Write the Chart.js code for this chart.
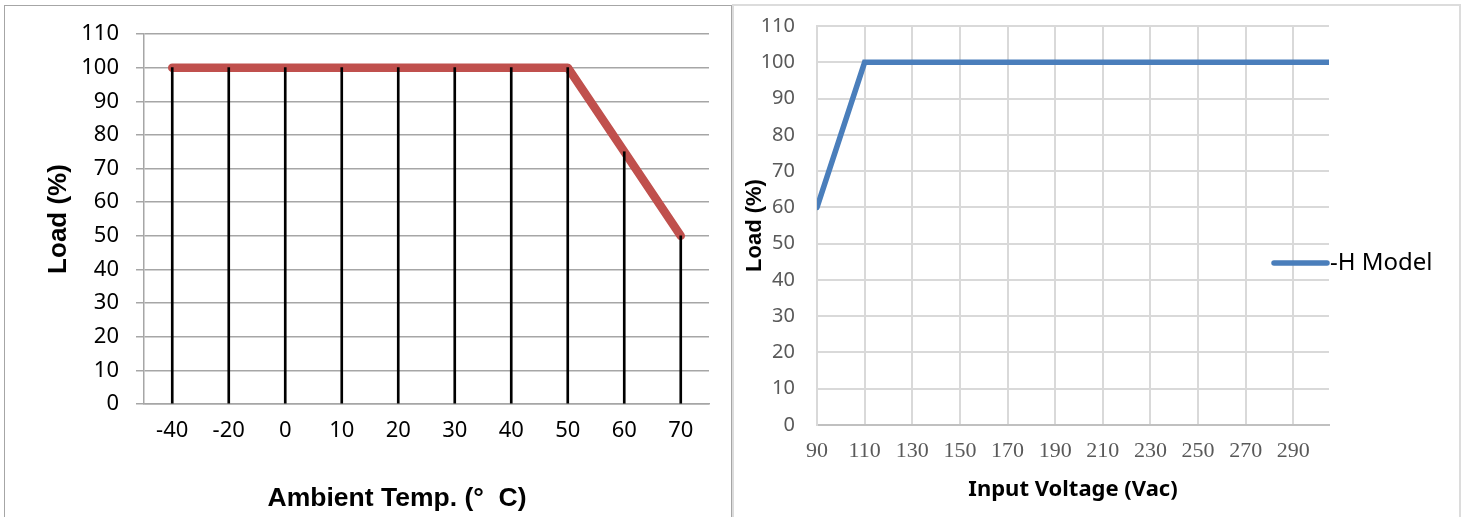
<!DOCTYPE html>
<html>
<head>
<meta charset="utf-8">
<script src="https://cdn.jsdelivr.net/npm/chart.js@4"></script>
<style>
  body { margin: 0; background: #fff; width: 1465px; height: 517px; overflow: hidden; position: relative; }
  .panel { position: absolute; box-sizing: border-box; }
  #leftBox { left: 4px; top: 5px; width: 728px; height: 530px; border: 1px solid #a6a6a6; }
  #rightBox { left: 732px; top: 4px; width: 729px; height: 530px; border: 2px solid #dcdcdc; }
  canvas { position: absolute; }
  #temp { left: 5px; top: 6px; }
  #volt { left: 735px; top: 7px; }
</style>
</head>
<body>
<div class="panel" id="leftBox"></div>
<div class="panel" id="rightBox"></div>
<canvas id="temp" width="725" height="511"></canvas>
<canvas id="volt" width="723" height="510"></canvas>
<script>
// derating vs ambient temperature
const tempLabels = ["-40", "-20", "0", "10", "20", "30", "40", "50", "60", "70"];
const tempLoad = [100, 100, 100, 100, 100, 100, 100, 100, 75, 50];

// derating vs input voltage
const voltX = [90, 110, 305];
const voltLoad = [60, 100, 100];
const voltTicks = [90, 110, 130, 150, 170, 190, 210, 230, 250, 270, 290];
const voltLabel = "-H Model";

const loadMin = 0;
const loadMax = 110;
const loadStep = 10;

Chart.defaults.animation = false;
Chart.defaults.plugins.tooltip.enabled = false;

// fixed axis size, and no extra padding from the tick labels
function fixSize(w, h) {
  return (s) => {
    if (w != null) s.width = w;
    if (h != null) s.height = h;
    s.paddingTop = 0;
    s.paddingBottom = 0;
    s.paddingLeft = 0;
    s.paddingRight = 0;
  };
}

// temperature chart
new Chart(document.getElementById("temp"), {
  data: {
    labels: tempLabels,
    datasets: [
      {
        type: "bar",
        label: "drop",
        data: tempLoad,
        backgroundColor: "#000",
        barThickness: 2,
        order: 0,
      },
      {
        type: "line",
        label: "Load",
        data: tempLoad,
        borderColor: "#C0504D",
        borderWidth: 8.5,
        borderCapStyle: "round",
        borderJoinStyle: "round",
        pointRadius: 0,
        tension: 0,
        order: 1,
      },
    ],
  },
  options: {
    responsive: false,
    layout: { padding: { left: 0, top: 28, right: 21, bottom: 0 } },
    plugins: { legend: { display: false } },
    scales: {
      x: {
        type: "category",
        offset: true,
        grid: { display: false, drawTicks: false, tickLength: 0 },
        border: { display: true, color: "#a6a6a6", width: 1.5 },
        ticks: {
          color: "#000",
          padding: 14,
          maxRotation: 0,
          font: { family: "'Noto Sans', sans-serif", size: 22 },
        },
        title: {
          display: true,
          // trailing spaces push the centred title to the left like the original
          text: "Ambient Temp. (°  C)        ",
          color: "#000",
          padding: { top: 0, bottom: 2 },
          font: { family: "'Liberation Sans', Arial, sans-serif", size: 26.5, weight: "bold" },
        },
        afterFit: fixSize(null, 113),
      },
      y: {
        min: loadMin,
        max: loadMax,
        ticks: {
          stepSize: loadStep,
          color: "#000",
          padding: 17,
          font: { family: "'Noto Sans', sans-serif", size: 22 },
        },
        grid: { color: "#a6a6a6", lineWidth: 1.5, tickLength: 8 },
        border: { color: "#a6a6a6", width: 1.5 },
        title: {
          display: true,
          text: "Load (%)",
          color: "#000",
          padding: { top: 38, bottom: 0 },
          font: { family: "'Liberation Sans', Arial, sans-serif", size: 26, weight: "bold" },
        },
        afterFit: fixSize(139, null),
      },
    },
  },
});

// legend sitting over the right edge of the plot, like the Excel one
const sideLegend = {
  id: "sideLegend",
  afterDraw(chart) {
    const ds = chart.data.datasets[0];
    const ctx = chart.ctx;
    const a = chart.chartArea;
    const y = 256;
    ctx.save();
    ctx.strokeStyle = ds.borderColor;
    ctx.lineWidth = ds.borderWidth;
    ctx.lineCap = "round";
    ctx.beginPath();
    ctx.moveTo(a.right - 55, y);
    ctx.lineTo(a.right - 2, y);
    ctx.stroke();
    ctx.fillStyle = "#000";
    ctx.font = "24px 'Noto Sans', sans-serif";
    ctx.textAlign = "left";
    ctx.textBaseline = "middle";
    ctx.fillText(ds.label, a.right + 1, y);
    ctx.restore();
  },
};

new Chart(document.getElementById("volt"), {
  type: "line",
  data: {
    datasets: [
      {
        label: voltLabel,
        data: voltX.map((v, i) => ({ x: v, y: voltLoad[i] })),
        borderColor: "#4A7EBB",
        borderWidth: 5.5,
        borderCapStyle: "round",
        borderJoinStyle: "miter",
        pointRadius: 0,
        tension: 0,
      },
    ],
  },
  options: {
    responsive: false,
    layout: { padding: { left: 0, top: 19, right: 129, bottom: 0 } },
    plugins: { legend: { display: false } },
    scales: {
      x: {
        type: "linear",
        min: 90,
        max: 305,
        afterBuildTicks: (s) => { s.ticks = voltTicks.map((v) => ({ value: v })); },
        grid: { color: "#d9d9d9", lineWidth: 2, drawTicks: false, tickLength: 0 },
        border: { color: "#c0c0c0", width: 2 },
        ticks: {
          color: "#595959",
          padding: 13,
          maxRotation: 0,
          autoSkip: false,
          font: { family: "'Liberation Serif', serif", size: 22 },
        },
        title: {
          display: true,
          text: "Input Voltage (Vac)",
          color: "#000",
          padding: { top: 0, bottom: 14 },
          font: { family: "'Noto Sans', sans-serif", size: 22, weight: "bold" },
        },
        afterFit: fixSize(null, 92),
      },
      y: {
        min: loadMin,
        max: loadMax,
        ticks: {
          stepSize: loadStep,
          color: "#595959",
          padding: 22,
          font: { family: "'Noto Sans', sans-serif", size: 20 },
        },
        grid: { color: "#d9d9d9", lineWidth: 2, drawTicks: false, tickLength: 0 },
        border: { color: "#d9d9d9", width: 2 },
        title: {
          display: true,
          text: "Load (%)",
          color: "#000",
          padding: { top: 7, bottom: 0 },
          font: { family: "'Liberation Sans', Arial, sans-serif", size: 22, weight: "bold" },
        },
        afterFit: fixSize(82, null),
      },
    },
  },
  plugins: [sideLegend],
});
</script>
</body>
</html>
